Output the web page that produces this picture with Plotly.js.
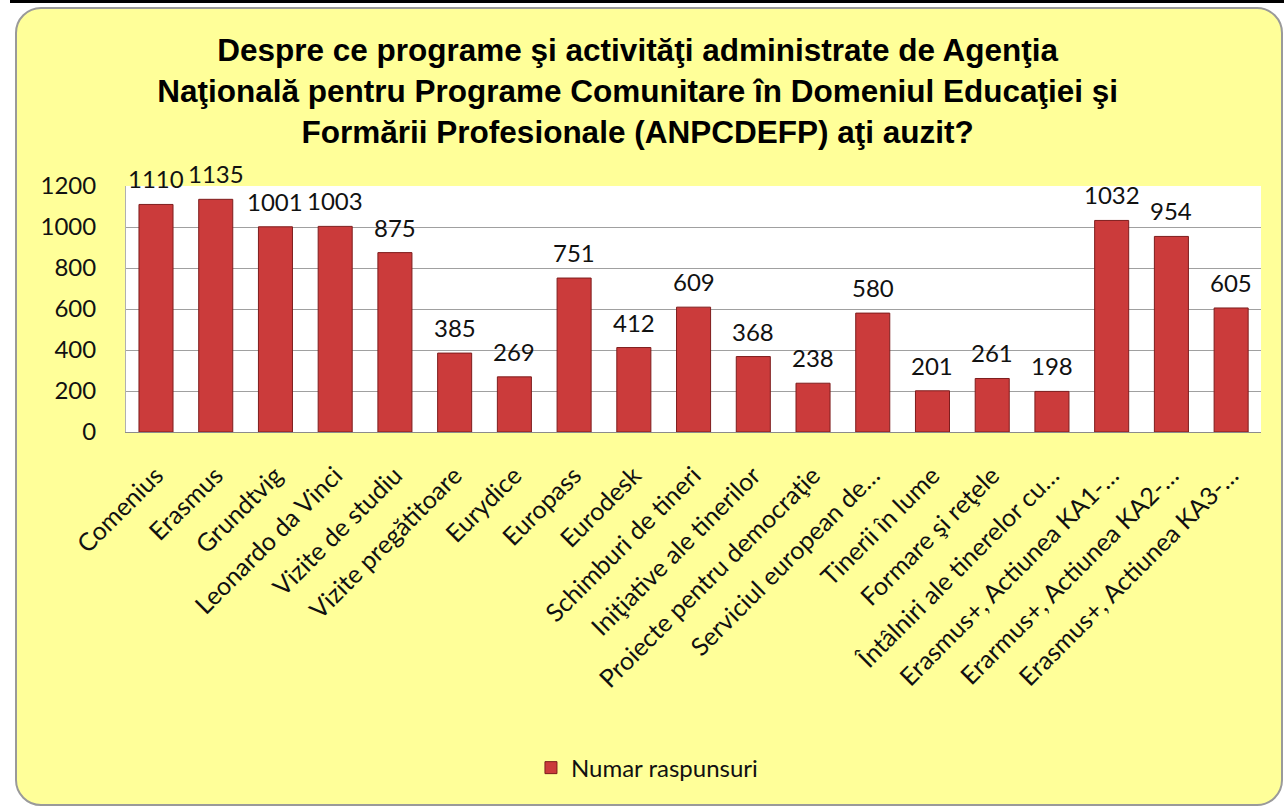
<!DOCTYPE html>
<html>
<head>
<meta charset="utf-8">
<script src="https://cdn.plot.ly/plotly-3.0.1.min.js"></script>
<style>
  html, body { margin:0; padding:0; background:#ffffff; width:1284px; height:806px; overflow:hidden; }
  #topline { position:absolute; left:10px; top:0px; width:1274px; height:3px; background:#000; }
  #frame { position:absolute; left:15px; top:7px; width:1264px; height:795px; border:2px solid #9a9a9a; border-radius:26px; background:#FFFF99; overflow:hidden; }
  #chart { width:1264px; height:795px; }
</style>
</head>
<body>
<div id="topline"></div>
<div id="frame"><div id="chart"></div></div>
<script>
const categories = [
  "Comenius", "Erasmus", "Grundtvig", "Leonardo da Vinci", "Vizite de studiu",
  "Vizite pregătitoare", "Eurydice", "Europass", "Eurodesk", "Schimburi de tineri",
  "Iniţiative ale tinerilor", "Proiecte pentru democraţie", "Serviciul european de…",
  "Tinerii în lume", "Formare şi reţele", "Întâlniri ale tinerelor cu…",
  "Erasmus+, Actiunea KA1-…", "Erarmus+, Actiunea KA2-…", "Erasmus+, Actiunea KA3-…"
];
const values = [1110, 1135, 1001, 1003, 875, 385, 269, 751, 412, 609, 368, 238, 580, 201, 261, 198, 1032, 954, 605];
const seriesName = "Numar raspunsuri";
const yTicks = [0, 200, 400, 600, 800, 1000, 1200];
const titleText = "Despre ce programe şi activităţi administrate de Agenţia<br>Naţională pentru Programe Comunitare în Domeniul Educaţiei şi<br>Formării Profesionale (ANPCDEFP) aţi auzit?";

const fam = "Lato, 'Open Sans', sans-serif";
const valueFont = { family: fam, size: 24, color: "#111" };
const yTickFont = { family: fam, size: 24, color: "#111" };
const xTickFont = { family: fam, size: 25, color: "#111" };

const trace = {
  type: "bar",
  x: categories,
  y: values,
  name: seriesName,
  marker: { color: "#CB3B3B", line: { color: "#7E1D1D", width: 1 } },
  showlegend: true,
  hoverinfo: "x+y"
};

const annotations = categories.map((c, i) => ({
  x: c, y: values[i], xref: "x", yref: "y",
  text: String(values[i]), showarrow: false,
  yanchor: "bottom", yshift: 9,
  font: valueFont
}));

const layout = {
  width: 1264, height: 795,
  paper_bgcolor: "rgba(0,0,0,0)",
  plot_bgcolor: "#ffffff",
  margin: { l: 109, r: 20, t: 177, b: 372 },
  title: {
    text: titleText,
    font: { family: "'Liberation Sans', Arial, sans-serif", size: 31.5, color: "#000", weight: "bold" },
    x: 0.491, xanchor: "center", xref: "container",
    y: 0.934, yanchor: "top", yref: "container"
  },
  bargap: 0.43,
  xaxis: {
    type: "category",
    tickangle: -45,
    tickfont: xTickFont,
    showgrid: false,
    showline: true, linecolor: "#8c8c8c", linewidth: 1,
    ticks: "", ticklabelstandoff: 18,
    automargin: false
  },
  yaxis: {
    range: [0, 1200],
    tickvals: yTicks,
    tickfont: yTickFont,
    showgrid: true, gridcolor: "#a0a0a0", gridwidth: 1,
    showline: true, linecolor: "#b0b0b0", linewidth: 1,
    zeroline: false,
    ticks: "", ticklabelstandoff: 24,
    automargin: false
  },
  legend: {
    orientation: "h",
    x: 0.459, xanchor: "center",
    y: -1.366, yanchor: "middle",
    font: { family: fam, size: 24, color: "#111" },
    bgcolor: "rgba(0,0,0,0)"
  },
  annotations: annotations
};

Plotly.newPlot("chart", [trace], layout, { displayModeBar: false, staticPlot: true });
</script>
</body>
</html>
